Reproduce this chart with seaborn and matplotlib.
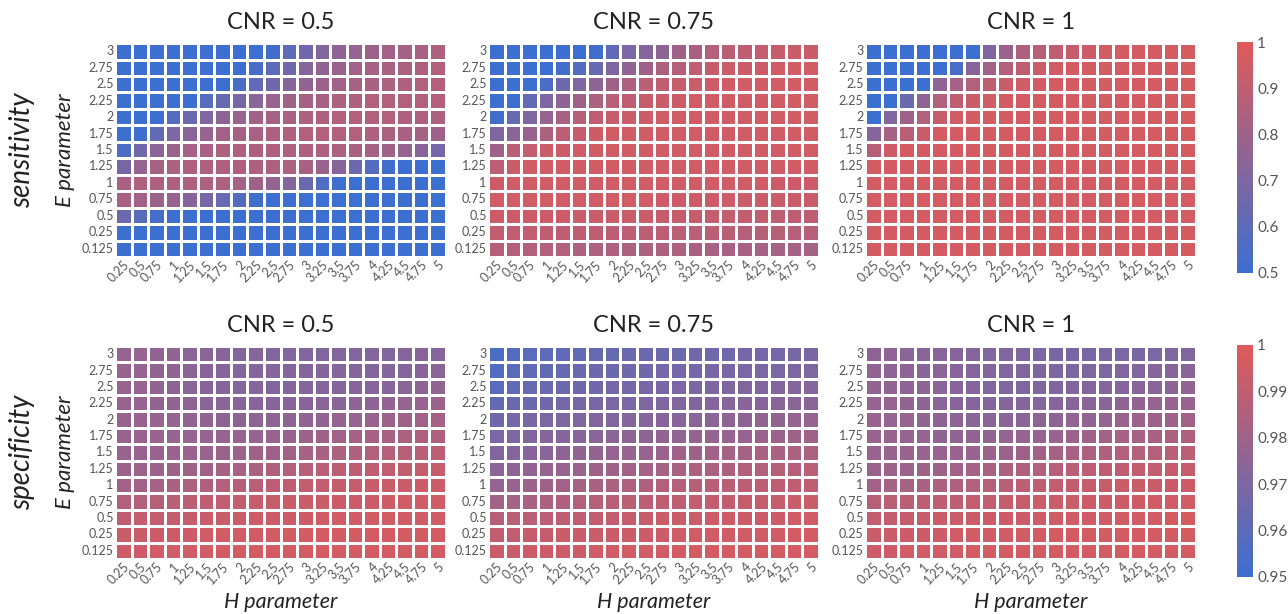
import numpy as np
import pandas as pd
import matplotlib
matplotlib.use("Agg")
import matplotlib.pyplot as plt
import seaborn as sns

# axis labels of every heatmap
h_labels = ["0.25", "0.5", "0.75", "1", "1.25", "1.5", "1.75", "2", "2.25", "2.5",
            "2.75", "3", "3.25", "3.5", "3.75", "4", "4.25", "4.5", "4.75", "5"]
e_labels = ["3", "2.75", "2.5", "2.25", "2", "1.75", "1.5", "1.25", "1", "0.75",
            "0.5", "0.25", "0.125"]
cnr_titles = ["CNR = 0.5", "CNR = 0.75", "CNR = 1"]

# sensitivity, in percent (rows = E from 3 down to 0.125, cols = H 0.25 .. 5)
sens_cnr_05 = [
    [50, 50, 50, 50, 50, 50, 50, 50, 50, 52, 60, 66, 71, 75, 77, 79, 81, 82, 83, 85],
    [50, 50, 50, 50, 50, 50, 50, 50, 54, 60, 66, 72, 76, 79, 81, 82, 83, 84, 85, 86],
    [50, 50, 50, 50, 50, 50, 50, 55, 61, 66, 72, 76, 79, 81, 82, 83, 84, 85, 86, 86],
    [50, 50, 50, 50, 50, 58, 63, 68, 74, 78, 80, 82, 83, 84, 85, 86, 86, 86, 86, 86],
    [50, 50, 50, 57, 64, 70, 75, 78, 81, 82, 83, 84, 85, 86, 86, 86, 86, 85, 85, 84],
    [50, 51, 62, 69, 74, 78, 81, 82, 83, 84, 85, 86, 86, 86, 86, 85, 84, 83, 82, 80],
    [55, 66, 74, 79, 82, 83, 84, 85, 85, 85, 85, 85, 85, 84, 83, 82, 80, 77, 73, 67],
    [68, 77, 82, 84, 85, 85, 85, 85, 85, 84, 84, 83, 79, 73, 65, 57, 52, 50, 50, 50],
    [83, 85, 85, 85, 85, 84, 84, 82, 80, 77, 72, 64, 56, 51, 50, 50, 50, 50, 50, 50],
    [83, 81, 79, 77, 73, 68, 63, 57, 52, 50, 50, 50, 50, 50, 50, 50, 50, 50, 50, 50],
    [64, 58, 53, 50, 50, 50, 50, 50, 50, 50, 50, 50, 50, 50, 50, 50, 50, 50, 50, 50],
    [50, 50, 50, 50, 50, 50, 50, 50, 50, 50, 50, 50, 50, 50, 50, 50, 50, 50, 50, 50],
    [50, 50, 50, 50, 50, 50, 50, 50, 50, 50, 50, 50, 50, 50, 50, 50, 50, 50, 50, 50],
]
sens_cnr_075 = [
    [50, 50, 50, 50, 50, 50, 52, 61, 69, 72, 75, 80, 83, 86, 88, 90, 91, 92, 93, 93],
    [50, 50, 50, 50, 52, 57, 63, 70, 76, 80, 84, 87, 90, 92, 93, 94, 94, 95, 95, 95],
    [50, 50, 50, 55, 65, 70, 75, 80, 85, 88, 90, 92, 93, 94, 95, 95, 95, 95, 95, 95],
    [50, 50, 62, 70, 75, 80, 84, 88, 90, 92, 93, 94, 95, 95, 95, 95, 95, 95, 95, 95],
    [52, 63, 70, 77, 82, 87, 90, 92, 93, 94, 95, 95, 95, 95, 95, 95, 95, 95, 95, 95],
    [70, 74, 78, 84, 89, 92, 94, 95, 95, 95, 95, 95, 95, 95, 95, 95, 95, 95, 95, 95],
    [80, 88, 91, 93, 94, 95, 95, 95, 95, 95, 95, 95, 95, 95, 95, 95, 95, 95, 95, 95],
    [89, 93, 95, 95, 95, 95, 95, 95, 95, 95, 95, 95, 95, 95, 95, 95, 95, 95, 95, 95],
    [94, 95, 95, 95, 95, 95, 95, 95, 95, 95, 95, 95, 95, 95, 95, 95, 95, 94, 94, 94],
    [95, 95, 95, 95, 95, 95, 95, 95, 95, 95, 94, 94, 94, 94, 94, 93, 93, 93, 93, 93],
    [94, 94, 94, 94, 94, 93, 93, 93, 93, 93, 92, 92, 92, 91, 91, 91, 91, 90, 90, 90],
    [91, 91, 91, 90, 90, 90, 90, 89, 89, 89, 89, 88, 88, 88, 88, 87, 87, 87, 87, 87],
    [87, 87, 86, 86, 86, 85, 85, 85, 84, 84, 84, 84, 83, 83, 83, 83, 82, 82, 82, 82],
]
sens_cnr_1 = [
    [50, 50, 50, 50, 50, 50, 50, 70, 79, 84, 87, 90, 92, 94, 95, 96, 96, 96, 96, 96],
    [50, 50, 50, 50, 50, 54, 73, 81, 86, 90, 93, 95, 96, 96, 96, 96, 96, 96, 96, 96],
    [50, 50, 50, 50, 75, 82, 86, 90, 93, 95, 96, 96, 96, 96, 96, 96, 96, 96, 96, 96],
    [50, 50, 65, 75, 86, 90, 93, 95, 96, 96, 96, 96, 96, 96, 96, 96, 96, 96, 96, 96],
    [50, 71, 80, 86, 92, 95, 96, 96, 96, 96, 96, 96, 96, 96, 96, 96, 96, 96, 96, 96],
    [73, 82, 88, 93, 96, 96, 96, 96, 96, 96, 96, 96, 96, 96, 96, 96, 96, 96, 96, 96],
    [87, 94, 96, 96, 96, 96, 96, 96, 96, 96, 96, 96, 96, 96, 96, 96, 96, 96, 96, 96],
    [96, 96, 96, 96, 96, 96, 96, 96, 96, 96, 96, 96, 96, 96, 96, 96, 96, 96, 96, 96],
    [96, 96, 96, 96, 96, 96, 96, 96, 96, 96, 96, 96, 96, 96, 96, 96, 96, 96, 96, 96],
    [96, 96, 96, 96, 96, 96, 96, 96, 96, 96, 96, 96, 96, 96, 96, 96, 96, 96, 96, 96],
    [96, 96, 96, 96, 96, 96, 96, 96, 96, 96, 96, 96, 96, 96, 96, 96, 96, 96, 96, 96],
    [96, 96, 96, 96, 96, 96, 96, 96, 96, 96, 96, 96, 96, 96, 96, 96, 96, 96, 96, 96],
    [96, 96, 96, 96, 96, 96, 96, 96, 96, 96, 96, 96, 96, 96, 96, 96, 96, 96, 96, 96],
]

# specificity, in thousandths
spec_cnr_05 = [
    [977, 977, 976, 976, 974, 974, 973, 972, 972, 971, 971, 971, 971, 971, 971, 972, 971, 972, 973, 972],
    [978, 977, 976, 976, 974, 973, 973, 972, 972, 972, 972, 972, 972, 972, 972, 972, 972, 972, 973, 974],
    [978, 977, 976, 975, 974, 973, 973, 972, 972, 971, 972, 972, 972, 972, 973, 973, 973, 974, 975, 976],
    [978, 977, 976, 976, 975, 974, 974, 973, 973, 973, 973, 973, 974, 974, 975, 975, 976, 977, 978, 979],
    [978, 978, 977, 977, 976, 976, 975, 975, 975, 975, 975, 976, 976, 977, 977, 978, 979, 980, 981, 982],
    [978, 978, 978, 977, 977, 977, 977, 977, 977, 978, 978, 979, 980, 981, 982, 982, 983, 984, 985, 985],
    [978, 978, 978, 978, 978, 978, 979, 979, 980, 980, 981, 982, 983, 984, 985, 986, 987, 987, 988, 989],
    [979, 979, 979, 980, 980, 981, 982, 983, 984, 985, 986, 987, 988, 989, 990, 990, 991, 991, 992, 992],
    [981, 981, 982, 983, 984, 985, 986, 987, 988, 989, 990, 991, 991, 992, 992, 993, 993, 993, 994, 994],
    [986, 986, 987, 988, 989, 990, 991, 991, 992, 992, 993, 993, 993, 994, 994, 994, 994, 995, 995, 995],
    [990, 991, 991, 992, 992, 993, 993, 993, 994, 994, 994, 994, 995, 995, 995, 995, 995, 995, 995, 995],
    [993, 993, 994, 994, 994, 995, 995, 995, 995, 995, 996, 996, 996, 996, 996, 996, 996, 996, 996, 996],
    [994, 994, 995, 995, 995, 995, 996, 996, 996, 996, 996, 996, 996, 996, 996, 996, 996, 996, 996, 996],
]
spec_cnr_075 = [
    [955, 957, 959, 960, 961, 962, 963, 963, 964, 964, 965, 965, 966, 966, 966, 967, 967, 967, 968, 968],
    [957, 959, 961, 962, 963, 964, 965, 965, 966, 966, 967, 967, 967, 968, 968, 969, 969, 969, 970, 970],
    [959, 961, 963, 964, 965, 966, 966, 967, 967, 968, 968, 969, 969, 970, 970, 971, 971, 971, 972, 972],
    [962, 964, 965, 966, 967, 968, 968, 969, 969, 970, 970, 971, 971, 972, 972, 973, 973, 974, 974, 974],
    [966, 967, 968, 969, 970, 970, 971, 971, 972, 972, 973, 973, 974, 974, 975, 975, 976, 976, 977, 977],
    [969, 970, 971, 972, 972, 973, 974, 974, 975, 975, 976, 976, 977, 977, 978, 978, 979, 979, 980, 980],
    [971, 972, 973, 974, 975, 976, 976, 977, 978, 978, 979, 980, 980, 981, 982, 982, 983, 983, 984, 984],
    [974, 975, 976, 977, 978, 979, 980, 980, 981, 982, 982, 983, 984, 984, 985, 986, 986, 987, 987, 988],
    [977, 978, 979, 980, 981, 982, 983, 984, 985, 985, 986, 987, 987, 988, 988, 989, 989, 990, 990, 990],
    [981, 982, 983, 984, 985, 986, 987, 988, 988, 989, 990, 990, 991, 991, 991, 992, 992, 992, 993, 993],
    [987, 988, 988, 989, 990, 990, 991, 991, 992, 992, 993, 993, 993, 994, 994, 994, 994, 994, 995, 995],
    [991, 991, 992, 992, 993, 993, 993, 994, 994, 994, 994, 995, 995, 995, 995, 995, 995, 995, 996, 996],
    [993, 993, 994, 994, 994, 994, 995, 995, 995, 995, 995, 996, 996, 996, 996, 996, 996, 996, 996, 996],
]
spec_cnr_1 = [
    [975, 975, 974, 974, 973, 973, 972, 971, 971, 970, 969, 968, 968, 968, 969, 969, 968, 969, 970, 971],
    [976, 975, 975, 974, 974, 973, 972, 972, 971, 971, 970, 970, 970, 970, 970, 971, 971, 972, 973, 974],
    [976, 976, 975, 975, 974, 973, 972, 971, 971, 970, 971, 971, 971, 971, 972, 972, 973, 974, 975, 976],
    [977, 977, 976, 975, 974, 973, 972, 972, 972, 972, 972, 973, 973, 974, 974, 975, 976, 977, 978, 978],
    [978, 977, 977, 976, 975, 975, 974, 974, 974, 974, 975, 975, 976, 976, 977, 978, 979, 980, 980, 981],
    [978, 978, 977, 977, 976, 976, 976, 976, 977, 977, 978, 978, 979, 980, 981, 982, 983, 983, 984, 985],
    [978, 978, 978, 978, 978, 978, 978, 979, 979, 980, 981, 982, 983, 984, 985, 986, 986, 987, 988, 988],
    [979, 979, 979, 980, 980, 981, 982, 983, 984, 985, 986, 987, 988, 989, 990, 990, 991, 991, 992, 992],
    [981, 982, 982, 983, 984, 985, 986, 987, 988, 989, 990, 991, 991, 992, 992, 993, 993, 993, 994, 994],
    [987, 988, 988, 989, 990, 990, 991, 991, 992, 992, 993, 993, 993, 994, 994, 994, 994, 995, 995, 995],
    [991, 991, 992, 992, 993, 993, 993, 994, 994, 994, 994, 995, 995, 995, 995, 995, 995, 995, 996, 996],
    [993, 993, 994, 994, 994, 995, 995, 995, 995, 995, 996, 996, 996, 996, 996, 996, 996, 996, 996, 996],
    [994, 994, 995, 995, 995, 995, 996, 996, 996, 996, 996, 996, 996, 996, 996, 996, 996, 996, 996, 996],
]

sens_ticks = [0.5, 0.6, 0.7, 0.8, 0.9, 1.0]
sens_tick_labels = ["0.5", "0.6", "0.7", "0.8", "0.9", "1"]
spec_ticks = [0.95, 0.96, 0.97, 0.98, 0.99, 1.0]
spec_tick_labels = ["0.95", "0.96", "0.97", "0.98", "0.99", "1"]

sns.set_theme(style="white")
plt.rcParams["font.family"] = ["Lato", "DejaVu Sans"]

cmap = sns.blend_palette(["#3c6fd0", "#e05a5a"], as_cmap=True)

fig = plt.figure(figsize=(12.88, 6.14), dpi=100)

lefts = [0.0893, 0.3789, 0.6716]
panel_w = 0.257
row_specs = [
    # bottom, height, cbar bottom, cbar height, data, scale, vmin, ticks, labels, name
    (0.5814, 0.3485, 0.5554, 0.376, [sens_cnr_05, sens_cnr_075, sens_cnr_1], 100.0,
     0.5, sens_ticks, sens_tick_labels, "sensitivity"),
    (0.0896, 0.3470, 0.0603, 0.378, [spec_cnr_05, spec_cnr_075, spec_cnr_1], 1000.0,
     0.95, spec_ticks, spec_tick_labels, "specificity"),
]

for r, (bottom, height, cb_bottom, cb_height, mats, scale, vmin, ticks, tlabels, name) in enumerate(row_specs):
    cax = fig.add_axes([0.9604, cb_bottom, 0.0124, cb_height])
    for c in range(3):
        ax = fig.add_axes([lefts[c], bottom, panel_w, height])
        df = pd.DataFrame(np.array(mats[c]) / scale, index=e_labels, columns=h_labels)
        sns.heatmap(df, ax=ax, cmap=cmap, vmin=vmin, vmax=1.0,
                    xticklabels=h_labels, yticklabels=e_labels,
                    linewidths=0.75, linecolor="white",
                    cbar=(c == 2), cbar_ax=cax if c == 2 else None)
        ax.set_title(cnr_titles[c], fontsize=17, color="#222222", pad=10)
        ax.tick_params(length=0, labelsize=9, labelcolor="#555555", pad=1)
        plt.setp(ax.get_yticklabels(), rotation=0)
        plt.setp(ax.get_xticklabels(), rotation=45, ha="right", rotation_mode="anchor")
        ax.set_xlabel("")
        ax.set_ylabel("")
        if c == 2:
            cb = ax.collections[0].colorbar
            cb.set_ticks(ticks)
            cb.set_ticklabels(tlabels)
            cb.outline.set_visible(False)
            cax.tick_params(length=0, labelsize=11, labelcolor="#555555", pad=3)
        if r == 1:
            fig.text(lefts[c] + panel_w / 2, 0.0195, "H parameter", fontsize=15.5,
                     style="italic", color="#222222", ha="center", va="center")

    mid_y = bottom + height / 2
    fig.text(0.0505, mid_y, "E parameter", fontsize=16, style="italic", color="#222222",
             rotation=90, ha="center", va="center")
    fig.text(0.017, mid_y, name, fontsize=20, style="italic", color="#222222",
             rotation=90, ha="center", va="center")

fig.savefig("out.png", dpi=100)
